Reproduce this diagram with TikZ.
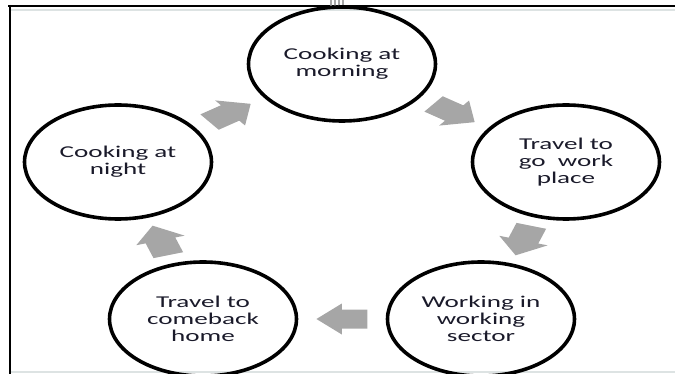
\documentclass[tikz,border=0pt]{standalone}
\usepackage{fontspec}
\newfontfamily\stagefont{Carlito}
\usetikzlibrary{shapes.arrows,calc}
\definecolor{arrowgray}{HTML}{A6A6A6}
\definecolor{rulegray}{HTML}{DDE3E3}
\definecolor{textnavy}{HTML}{1A1A2A}
\tikzset{every picture/.style={line width=0.75pt}}
\tikzset{
  stage/.style={circle, draw=black, line width=2.7pt, minimum size=85.5pt, inner sep=0pt,
    align=center, text=textnavy, font=\stagefont\fontsize{12.4}{12.75}\selectfont, xscale=1.64},
  cyclearrow/.style={single arrow, fill=arrowgray, draw=none, minimum height=23.25pt,
    inner xsep=0pt, inner ysep=6.75pt, single arrow head extend=4.5pt,
    xscale=1.64, rotate=#1, xshift=-3.5pt},
}

\begin{document}
\begin{tikzpicture}[x=0.75pt,y=0.75pt,yscale=-1,xscale=1]
     \useasboundingbox (0,0) rectangle (675,374);
     %Straight Lines: frame
     \draw [color=rulegray, line width=1.1pt] (11,10) -- (675,10) ;
     \draw [color=rulegray, line width=1.1pt] (11,372) -- (675,372) ;
     \draw [line width=1.9pt] (8,6) -- (675,6) ;
     \draw [line width=1.9pt] (10,5) -- (10,374) ;
     %Straight Lines: handle marks
     \foreach \x in {331,335,339,343} \draw [color=arrowgray, line width=0.9pt] (\x,0.5) -- (\x,8) ;
     %Shape: Circle
     \node [stage] (morning) at (342,64) {Cooking at\\morning};
     %Shape: Circle
     \node [stage] (work) at (566,162) {Travel to\\go\ \ work\\place};
     %Shape: Circle
     \node [stage] (sector) at (481,319) {Working in\\working\\sector};
     %Shape: Circle
     \node [stage] (home) at (203,319) {Travel to\\comeback\\home};
     %Shape: Circle
     \node [stage] (night) at (118,162) {Cooking at\\night};
     %Shape: Right Arrow
     \node [cyclearrow=-36] (toWork) at ($(morning)!0.5!(work)$) {};
     %Shape: Right Arrow
     \node [cyclearrow=-108] (toSector) at ($(work)!0.5!(sector)$) {};
     %Shape: Right Arrow
     \node [cyclearrow=180] (toHome) at ($(sector)!0.5!(home)$) {};
     %Shape: Right Arrow
     \node [cyclearrow=108] (toNight) at ($(home)!0.5!(night)$) {};
     %Shape: Right Arrow
     \node [cyclearrow=36] (toMorning) at ($(night)!0.5!(morning)$) {};
\end{tikzpicture}
\end{document}
